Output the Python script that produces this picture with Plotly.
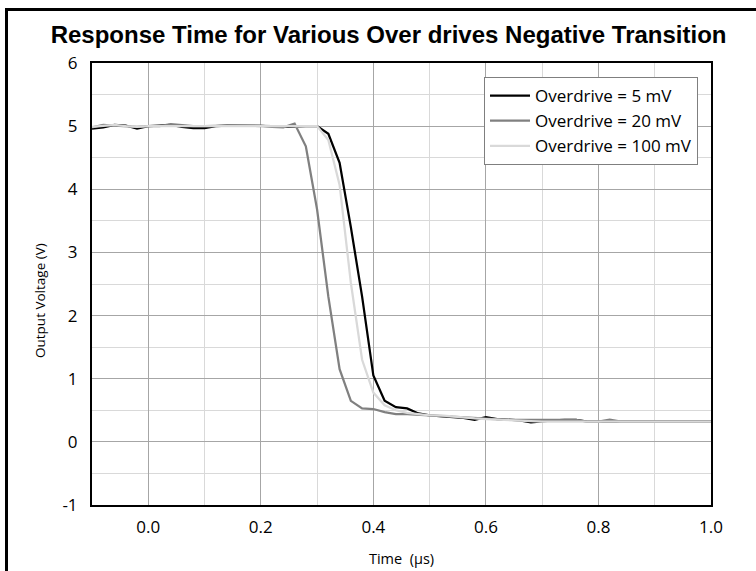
import plotly.graph_objects as go

time_us = [-0.10, -0.08, -0.06, -0.04, -0.02, 0.00, 0.02, 0.04, 0.06, 0.08,
           0.10, 0.12, 0.14, 0.16, 0.18, 0.20, 0.22, 0.24, 0.26, 0.28,
           0.30, 0.32, 0.34, 0.36, 0.38, 0.40, 0.42, 0.44, 0.46, 0.48,
           0.50, 0.52, 0.54, 0.56, 0.58, 0.60, 0.62, 0.64, 0.66, 0.68,
           0.70, 0.72, 0.74, 0.76, 0.78, 0.80, 0.82, 0.84, 0.86, 0.88,
           0.90, 0.92, 0.94, 0.96, 0.98, 1.00]

v_5mv = [4.96, 4.98, 5.02, 5.01, 4.96, 5.00, 5.01, 5.02, 4.99, 4.97,
         4.97, 5.00, 5.01, 5.01, 5.01, 5.01, 5.00, 4.99, 5.00, 5.00,
         5.00, 4.88, 4.42, 3.40, 2.30, 1.05, 0.65, 0.55, 0.53, 0.45,
         0.42, 0.41, 0.40, 0.38, 0.35, 0.39, 0.36, 0.35, 0.34, 0.31,
         0.33, 0.34, 0.35, 0.35, 0.32, 0.32, 0.32, 0.32, 0.32, 0.32,
         0.32, 0.32, 0.32, 0.32, 0.32, 0.32]

v_20mv = [4.98, 5.02, 5.01, 5.00, 4.99, 5.00, 5.00, 5.03, 5.01, 5.00,
          5.00, 5.01, 5.01, 5.01, 5.01, 5.01, 4.99, 4.98, 5.04, 4.68,
          3.68, 2.30, 1.15, 0.65, 0.53, 0.52, 0.47, 0.44, 0.44, 0.43,
          0.41, 0.41, 0.40, 0.38, 0.37, 0.37, 0.36, 0.35, 0.35, 0.35,
          0.35, 0.36, 0.36, 0.35, 0.32, 0.32, 0.35, 0.32, 0.32, 0.32,
          0.32, 0.32, 0.32, 0.32, 0.32, 0.32]

v_100mv = [4.99, 5.01, 5.02, 5.00, 4.99, 5.00, 5.00, 5.01, 5.00, 5.00,
           5.00, 5.00, 5.00, 5.00, 5.00, 5.00, 5.00, 5.00, 5.00, 5.00,
           5.00, 4.78, 4.07, 2.52, 1.30, 0.78, 0.58, 0.50, 0.46, 0.44,
           0.42, 0.42, 0.40, 0.38, 0.37, 0.36, 0.35, 0.34, 0.33, 0.32,
           0.32, 0.32, 0.32, 0.32, 0.32, 0.32, 0.32, 0.32, 0.32, 0.32,
           0.32, 0.32, 0.32, 0.32, 0.32, 0.32]

series_names = ["Overdrive = 5 mV", "Overdrive = 20 mV", "Overdrive = 100 mV"]
series_values = [v_5mv, v_20mv, v_100mv]
series_colors = ["#000000", "#808080", "#d9d9d9"]

x_ticks = [0.0, 0.2, 0.4, 0.6, 0.8, 1.0]
x_tick_labels = ["0.0", "0.2", "0.4", "0.6", "0.8", "1.0"]
y_ticks = [-1, 0, 1, 2, 3, 4, 5, 6]
y_tick_labels = ["-1", "0", "1", "2", "3", "4", "5", "6"]

FONT = "Open Sans"

fig = go.Figure()
for name, vals, col in zip(series_names, series_values, series_colors):
    fig.add_trace(go.Scatter(x=time_us, y=vals, mode="lines", name=name,
                             line=dict(color=col, width=2.25)))

W, H = 756, 571
L, R, T, B = 92, 45, 63, 66
pw, ph = W - L - R, H - T - B

fig.update_layout(
    width=W, height=H,
    margin=dict(l=L, r=R, t=T, b=B, pad=0, autoexpand=False),
    paper_bgcolor="white", plot_bgcolor="white",
    font=dict(family=FONT, color="#000000", size=14),
    title=dict(text="<b>Response Time for Various Over drives Negative Transition</b>",
               font=dict(family="Liberation Sans", size=24, color="#000000"),
               x=0.514, xanchor="center", y=1 - 35 / H, yanchor="middle"),
    showlegend=True,
    legend=dict(x=(698 - L) / pw, xanchor="right",
                y=(H - B - 77) / ph, yanchor="top",
                bgcolor="white", bordercolor="#7f7f7f", borderwidth=1,
                font=dict(family=FONT, size=17, color="#000000"),
                tracegroupgap=0, itemwidth=40),
    xaxis=dict(range=[-0.1, 1.0], tickvals=x_ticks, ticktext=x_tick_labels,
               showgrid=True, gridcolor="#a6a6a6", gridwidth=1,
               minor=dict(dtick=0.1, tick0=0, showgrid=True, gridcolor="#d9d9d9", gridwidth=1),
               zeroline=False, showline=True, mirror=True, linecolor="#000000", linewidth=2,
               ticks="", tickfont=dict(family=FONT, size=17), ticklabelstandoff=6,
               automargin=False,
               title=dict(text="Time\u00a0\u00a0(µs)", font=dict(family=FONT, size=14.5), standoff=16)),
    yaxis=dict(range=[-1, 6], tickvals=y_ticks, ticktext=y_tick_labels,
               showgrid=True, gridcolor="#a6a6a6", gridwidth=1,
               minor=dict(dtick=0.5, tick0=0, showgrid=True, gridcolor="#d9d9d9", gridwidth=1),
               zeroline=False, showline=True, mirror=True, linecolor="#000000", linewidth=2,
               ticks="", tickfont=dict(family=FONT, size=17), ticklabelstandoff=9,
               automargin=False),
)

# y-axis title (sits slightly below the plot centre in the reference)
fig.add_annotation(text="Output Voltage (V)", textangle=-90,
                   xref="paper", yref="paper",
                   x=(40 - L) / pw, y=(H - B - 301) / ph,
                   xanchor="center", yanchor="middle", showarrow=False,
                   font=dict(family=FONT, size=13.5, color="#000000"))

fig.add_shape(type="rect", xref="paper", yref="paper",
              x0=(6.5 - L) / pw, x1=(W + 10 - L) / pw,
              y0=(H - B - (H + 10)) / ph, y1=(H - B - 9.5) / ph,
              line=dict(color="#000000", width=3), fillcolor="rgba(0,0,0,0)", layer="above")

fig.write_html("out.html")
